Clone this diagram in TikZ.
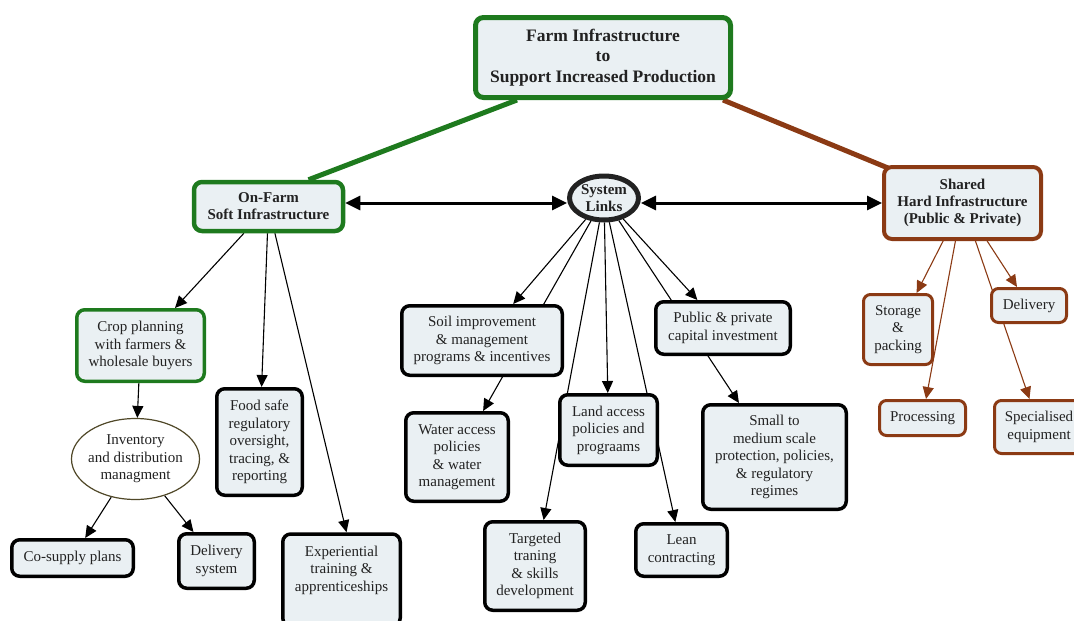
\documentclass[tikz,border=0pt]{standalone}
\usepackage{fontspec}
\setmainfont{Liberation Serif}
\usetikzlibrary{arrows.meta,shapes.geometric,backgrounds}

\definecolor{boxfill}{RGB}{234,240,243}
\definecolor{leafgreen}{RGB}{30,122,30}
\definecolor{rust}{RGB}{139,58,20}
\definecolor{inkgray}{RGB}{34,34,34}

\tikzset{
  txt/.style={font=\fontsize{15}{17.5}\selectfont, text=inkgray},
  hdr/.style={font=\fontsize{15}{17}\selectfont\bfseries, text=inkgray},
  card/.style={draw=black, fill=boxfill, rounded corners=8pt, align=center,
    inner sep=2pt, line width=3.5pt, txt},
  greencard/.style={card, draw=leafgreen},
  rustcard/.style={card, draw=rust, line width=3pt, rounded corners=7pt},
  link/.style={line width=1.1pt, -{Triangle[length=12pt,width=11pt]}},
  rustlink/.style={link, draw=rust, -{Triangle[length=12pt,width=11pt,fill=rust]}},
  twoway/.style={line width=3pt, {Triangle[length=15pt,width=14pt]}-{Triangle[length=15pt,width=14pt]}},
}

\begin{document}
\begin{tikzpicture}[x=1pt,y=-1pt]
\useasboundingbox (0,0) rectangle (1074,621);

% top level
\node[greencard, line width=5pt, minimum width=255, minimum height=80,
      font=\fontsize{17.5}{20.5}\selectfont\bfseries]
  (top) at (603,57.5) {Farm Infrastructure\\to\\Support Increased Production};

% second level
\node[greencard, line width=4.5pt, hdr, minimum width=149, minimum height=49]
  (onfarm) at (268.5,206.5) {On-Farm\\Soft Infrastructure};
\node[ellipse, draw=inkgray, fill=boxfill, line width=5pt, hdr, align=center,
      inner sep=0pt, minimum width=69, minimum height=44]
  (links) at (604,198) {System\\Links};
\node[card, draw=rust, line width=4pt, hdr, minimum width=157, minimum height=72]
  (shared) at (962.5,203) {Shared\\Hard Infrastructure\\(Public \& Private)};

% on-farm branch
\node[greencard, minimum width=127.5, minimum height=71.5]
  (crop) at (140.5,345.5) {Crop planning\\with farmers \&\\wholesale buyers};
\node[ellipse, draw={rgb,255:red,80;green,72;blue,40}, fill=white, line width=1.2pt,
      txt, align=center, inner xsep=-4pt, inner ysep=0pt,
      minimum width=128, minimum height=81]
  (inv) at (135.5,459) {Inventory\\and distribution\\managment};
\node[card, minimum width=121.5, minimum height=36.5]
  (cosup) at (72.5,558) {Co-supply plans};
\node[card, minimum width=75.5, minimum height=54.5]
  (delsys) at (216.5,561) {Delivery\\system};
\node[card, minimum width=85.5, minimum height=106.5]
  (food) at (259.5,442) {Food safe\\regulatory\\oversight,\\tracing, \&\\reporting};
\node[card, minimum width=117.5, minimum height=92]
  (exper) at (341.5,580) {Experiential\\training \&\\apprenticeships\\\strut};

% system links branch
\node[card, minimum width=160.5, minimum height=69.5]
  (soil) at (482,340.5) {Soil improvement\\\& management\\programs \& incentives};
\node[card, minimum width=102.5, minimum height=88.5]
  (water) at (457,457) {Water access\\policies\\\& water\\management};
\node[card, minimum width=97.5, minimum height=70.5]
  (land) at (608.5,430) {Land access\\policies and\\prograams};
\node[card, minimum width=100.5, minimum height=88.5]
  (target) at (535,566) {Targeted\\traning\\\& skills\\development};
\node[card, minimum width=91.5, minimum height=52.5]
  (lean) at (681.5,550) {Lean\\contracting};
\node[card, minimum width=134.5, minimum height=52.5]
  (public) at (723,328) {Public \& private\\capital investment};
\node[card, minimum width=143.5, minimum height=104.5]
  (small) at (774.5,457) {Small to\\medium scale\\protection, policies,\\\& regulatory\\regimes};

% shared hard infrastructure branch
\node[rustcard, minimum width=69, minimum height=70]
  (store) at (898,329.5) {Storage\\\&\\packing};
\node[rustcard, minimum width=75, minimum height=34]
  (deliv) at (1029,305.5) {Delivery};
\node[rustcard, minimum width=86, minimum height=35]
  (proc) at (922.5,418) {Processing};
\node[rustcard, minimum width=89, minimum height=53]
  (spec) at (1039,427) {Specialised\\equipment};

% connectors run beneath the cards
\begin{scope}[on background layer]
  \draw[leafgreen, line width=5pt] ([xshift=-86pt]top.south) -- ([xshift=40pt]onfarm.north);
  \draw[rust, line width=5pt] ([xshift=120pt]top.south) -- ([shift={(6pt,-3pt)}]shared.north west);

  \draw[twoway] (onfarm.east |- 0,203) -- (links.west |- 0,203);
  \draw[twoway] (links.east |- 0,203) -- (shared.west |- 0,203);

  \draw[link] (onfarm) -- (crop);
  \draw[link] (onfarm) -- (food);
  \draw[link] (onfarm) -- ([xshift=5pt]exper.north);
  \draw[link] (crop) -- (inv);
  \draw[link] (inv) -- (cosup);
  \draw[link] (inv) -- (delsys);

  \draw[link] (links) -- (soil);
  \draw[link] (links) -- (water);
  \draw[link] (links) -- (target);
  \draw[link] (links) -- (land);
  \draw[link] (links) -- (lean);
  \draw[link] (links) -- (small);
  \draw[link] (links) -- (public);

  \draw[rustlink] (shared) -- (store);
  \draw[rustlink] (shared) -- (proc);
  \draw[rustlink] (shared) -- (deliv);
  \draw[rustlink] (shared) -- (spec);
\end{scope}
\end{tikzpicture}
\end{document}
